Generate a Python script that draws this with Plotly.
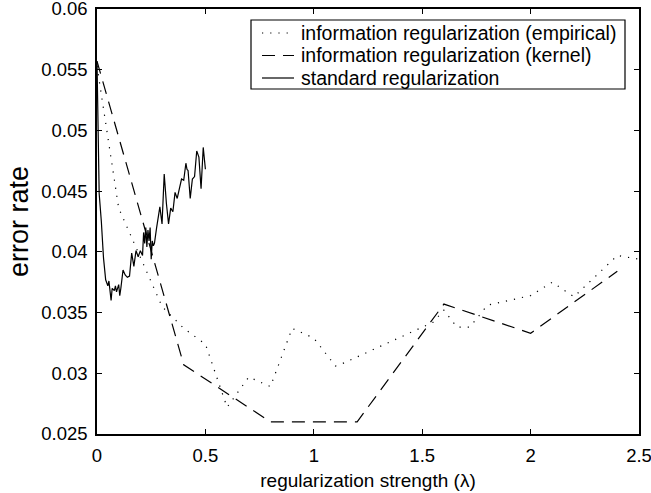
import plotly.graph_objects as go

# information regularization (empirical)
emp_lambda = [0.0, 0.1, 0.3, 0.4, 0.5, 0.6, 0.7, 0.8, 0.9, 1.0, 1.1, 1.12, 1.55, 1.6, 1.66, 1.72,
              1.8, 2.0, 2.1, 2.2, 2.4, 2.5]
emp_error = [0.0553, 0.0436, 0.0355, 0.0337, 0.0324, 0.0272, 0.0297, 0.0289, 0.0337, 0.0329,
             0.0306, 0.0307, 0.0342, 0.0352, 0.0338, 0.0338, 0.0356, 0.0364, 0.0375, 0.0363,
             0.0397, 0.0394]

# information regularization (kernel)
ker_lambda = [0.0, 0.4, 0.8, 1.2, 1.6, 2.0, 2.4]
ker_error = [0.0557, 0.0307, 0.0260, 0.0260, 0.0357, 0.0333, 0.0384]

# standard regularization
std_lambda = [0.0, 0.01, 0.02, 0.03, 0.04, 0.05, 0.055, 0.06, 0.065, 0.07, 0.08, 0.085, 0.09,
              0.1, 0.105, 0.11, 0.12, 0.13, 0.14, 0.15, 0.155, 0.16, 0.17, 0.18, 0.19, 0.2,
              0.21, 0.215, 0.22, 0.225, 0.23, 0.235, 0.24, 0.245, 0.25, 0.255, 0.26, 0.265,
              0.275, 0.285, 0.29, 0.3, 0.31, 0.32, 0.33, 0.34, 0.35, 0.36, 0.37, 0.38, 0.39,
              0.4, 0.41, 0.415, 0.42, 0.43, 0.44, 0.45, 0.46, 0.47, 0.48, 0.49, 0.5]
std_error = [0.0557, 0.0448, 0.0425, 0.0395, 0.0377, 0.0372, 0.0376, 0.0370, 0.0360, 0.0370,
             0.0368, 0.0372, 0.0367, 0.0373, 0.0364, 0.0370, 0.0385, 0.0381, 0.0379, 0.0380,
             0.0392, 0.0399, 0.0388, 0.0401, 0.0396, 0.0401, 0.0397, 0.0416, 0.0407, 0.0420,
             0.0404, 0.0418, 0.0409, 0.0420, 0.0394, 0.0409, 0.0405, 0.0407, 0.0420, 0.0431,
             0.0437, 0.0423, 0.0464, 0.0440, 0.0423, 0.0436, 0.0433, 0.0449, 0.0444, 0.0452,
             0.0460, 0.0459, 0.0473, 0.0468, 0.0467, 0.0444, 0.0460, 0.0462, 0.0483, 0.0478,
             0.0452, 0.0486, 0.0468]

series_names = ["information regularization (empirical)",
                "information regularization (kernel)",
                "standard regularization"]

x_ticks = [0, 0.5, 1, 1.5, 2, 2.5]
x_tick_labels = ["0", "0.5", "1", "1.5", "2", "2.5"]
y_ticks = [0.025, 0.03, 0.035, 0.04, 0.045, 0.05, 0.055, 0.06]
y_tick_labels = ["0.025", "0.03", "0.035", "0.04", "0.045", "0.05", "0.055", "0.06"]

FONT = "Liberation Sans, Arial, sans-serif"
DASHES = ["1.2px,7px", "13px,8px", "solid"]

fig = go.Figure()
for xs, ys, name, dash in zip([emp_lambda, ker_lambda, std_lambda],
                              [emp_error, ker_error, std_error],
                              series_names, DASHES):
    fig.add_trace(go.Scatter(x=xs, y=ys, mode="lines", name=name, showlegend=False,
                             line=dict(color="black", width=1.2, dash=dash)))

# legend box drawn in paper coordinates (MATLAB-style compact legend)
W, H = 651, 493
L, R, T, B = 97, 12, 9, 59
pw, ph = W - L - R, H - T - B


def px_x(p):
    return (p - L) / pw


def px_y(p):
    return (H - B - p) / ph


shapes = [dict(type="rect", xref="paper", yref="paper",
               x0=px_x(251), x1=px_x(625), y0=px_y(89), y1=px_y(20),
               line=dict(color="black", width=1.2), fillcolor="white", layer="above")]
annotations = []
for i, (name, dash) in enumerate(zip(series_names, DASHES)):
    yrow = 33 + 22.5 * i
    shapes.append(dict(type="line", xref="paper", yref="paper",
                       x0=px_x(262), x1=px_x(294), y0=px_y(yrow), y1=px_y(yrow),
                       line=dict(color="black", width=1.2, dash=dash), layer="above"))
    annotations.append(dict(xref="paper", yref="paper", x=px_x(299), y=px_y(yrow),
                            xanchor="left", yanchor="middle", text=name, showarrow=False,
                            font=dict(family=FONT, size=19.5, color="black")))

axis_common = dict(showline=True, linecolor="black", linewidth=1.5, mirror="ticks",
                   ticks="inside", ticklen=5, tickcolor="black", tickwidth=1.2,
                   showgrid=False, zeroline=False, automargin=False,
                   ticklabeloverflow="allow",
                   tickfont=dict(family=FONT, size=18.5, color="black"))

fig.update_layout(
    width=W, height=H,
    margin=dict(l=L, r=R, t=T, b=B),
    paper_bgcolor="white", plot_bgcolor="white",
    font=dict(family=FONT, color="black"),
    xaxis=dict(range=[0, 2.5], tickvals=x_ticks, ticktext=x_tick_labels,
               ticklabelstandoff=4,
               title=dict(text="regularization strength (λ)", font=dict(family=FONT, size=19),
                          standoff=9),
               **axis_common),
    yaxis=dict(range=[0.025, 0.06], tickvals=y_ticks, ticktext=y_tick_labels,
               ticklabelstandoff=4,
               title=dict(text="error rate", font=dict(family=FONT, size=27), standoff=5),
               **axis_common),
    shapes=shapes,
    annotations=annotations,
    showlegend=False,
)

fig.write_html("out.html", config={"displayModeBar": False},
               post_script="document.body.style.margin='0';")
